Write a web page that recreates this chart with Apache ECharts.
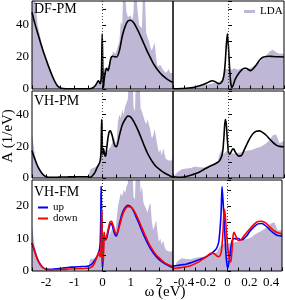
<!DOCTYPE html>
<html>
<head>
<meta charset="utf-8">
<script src="https://cdn.jsdelivr.net/npm/echarts@6/dist/echarts.min.js"></script>
<style>html,body{margin:0;padding:0;background:#fff}#c{width:285px;height:300px}</style>
</head>
<body>
<div id="c"></div>
<script>
// ---- frequency grids (eV) ----
const negW = [-2.5,-2.4,-2.3,-2.2,-2.1,-2.0,-1.9,-1.8,-1.7,-1.6,-1.5,-1.4,-1.3,-1.2,-1.1,-1.0,-0.9,-0.8,-0.7,-0.6];
const rightW = [-0.5,-0.46,-0.42,-0.38,-0.34,-0.3,-0.26,-0.22,-0.18,-0.15,-0.12,-0.1,-0.08,-0.06,-0.05,-0.04,-0.03,-0.02,-0.01,0,0.01,0.02,0.03,0.04,0.05,0.06,0.08,0.1,0.12,0.14,0.16,0.18,0.2,0.22,0.25,0.28,0.31,0.34,0.37,0.4,0.43,0.46,0.5];
const posW = [0.6,0.7,0.8,0.9,1.0,1.1,1.2,1.3,1.4,1.5,1.6,1.7,1.8,1.9,2.0,2.1,2.2,2.3,2.4,2.5];
const posLdaW = [0.55,0.6,0.65,0.7,0.75,0.8,0.85,0.9,0.95,1.0,1.05,1.1,1.15,1.2,1.25,1.3,1.35,1.4,1.45,1.5,1.55,1.6,1.65,1.7,1.75,1.8,1.85,1.9,1.95,2.0,2.05,2.1,2.15,2.2,2.25,2.3,2.35,2.4,2.45,2.5];
const fermiLevel = [0];

// ---- DF-PM ----
const dfNeg = [48,41,35,29,23.5,18.5,13.5,9,5,2,0.7,0.3,0.2,0.2,0.2,0.2,0.2,0.2,0.2,0.2];
const dfMid = [0.2,0.2,0.3,0.5,0.8,1.3,2,3,4.3,5.2,4.6,3.6,3.3,4.5,6,9,16,27,34.5,26,13,4,1,2,4,6,8.5,10.5,12,13,13,12,11.5,12.5,15,18,19.8,20.3,20.5,20.3,20.2,20.2,20];
const dfPos = [24,33,39,42.5,43,41.5,38.5,35,31,27,23,19.5,16,13.3,11,9,7.4,6,4.9,4];
const ldaDfNeg = [70,58,40,32,25,20,15,10,6,3,1,0,0,0,0,0,0,0,0,0];
const ldaDfMid = [0,0,0.3,0.6,1,1.5,2,2.5,3,3.5,4,4.2,4.5,5.5,8,11,12.5,13,12.5,13,12.5,13,12,12.5,13,12.5,12,12.5,13,12.5,12,13,13,14,15.5,16.5,19,21,23.5,24.5,23,22,22];
const ldaDfPos = [27,30,42,40,70,70,48,45,44,46,43,48,70,70,48,40,41,38,70,60,35,32,30,26,24,25,29,20,14,13,15,16,12,11,10,11,12.5,10,11,10];

// ---- VH-PM ----
const vhNeg = [17.3,12,7.5,4.3,2,0.8,0.5,0.5,0.5,0.5,0.6,0.6,0.6,0.7,0.7,0.7,0.8,0.8,0.8,0.8];
const vhMid = [0.8,0.5,0.5,1,1.8,2.7,3.8,5.5,7,8,9,9.8,11,14,18,27,37,34,24,16,15,16,17.5,18.4,18,16.5,14.5,13.8,14.5,17.5,20.5,23.5,26,28,29.6,29.8,28.7,27,24.7,22.5,20.8,20,19.8];
const vhPos = [27,33.5,37,39.2,38.5,36,32.5,28.5,24,19.5,15.5,12.3,9.5,7.3,5.7,4.3,3.2,2.2,1.3,0.6];
const ldaVhNeg = [28,15,7,3,1,0,0,0,0,0,0,0,0,0,0,0,0,0,0,0];
const ldaVhMid = [0.5,3.7,5.5,6,6.4,7.2,6.8,6.7,7.7,8.5,9.3,10,15,18,15,15.5,16,17,17.5,17,16.5,16,15.5,15,15.5,16,16,16,16.5,17,17,17.5,17.5,18,19,19.5,20.5,22,24,27,27.5,22,23.5];
const ldaVhPos = [36,40,38,43,40,45,46,50,70,70,70,45,42,70,70,70,44,42,42,36,34,37,38,30,25,27,31,30,20,16,18,14,19,15,12,13,11,12,11,13];

// ---- VH-FM ----
const upNeg = [8.6,6,3.6,2,1,0.6,0.5,0.5,0.6,0.7,0.8,0.9,1,1.1,1.2,1.2,1.3,1.3,1.4,1.4];
const upMid = [1.5,1.7,1.9,2.1,2.5,3,3.5,4,4.7,5.3,6.2,7,9,17,26,21,15,8.5,3.5,1,2,4.5,7,9,9.8,10,9.9,10,9.6,9.7,10.3,11,12,12.8,13.8,14.5,14.6,14.2,13.3,12.3,11.5,10.9,10.8];
const upPos = [14.5,17.8,19.5,20.2,19.8,18.5,16.5,14.5,12.3,10.3,8.5,6.9,5.6,4.5,3.6,2.9,2.3,1.8,1.4,1.1];
const dnNeg = [8.6,5.8,3.4,1.8,0.9,0.5,0.4,0.4,0.4,0.4,0.5,0.5,0.5,0.6,0.6,0.6,0.7,0.7,0.7,0.8];
const dnMid = [0.8,0.9,1.1,1.3,1.6,2.2,2.9,3.8,4.8,5.5,5.3,4.7,4.4,5.5,8,13,19,17,12,8,5,3.2,2.8,6,10.5,11.9,10.5,9.4,9.5,10.3,11.2,12,12.8,13.6,14.6,15.2,15.3,15,14.2,13.2,12.3,11.8,11.5];
const dnPos = [13.8,17,19,19.8,19.7,18.8,17.2,15.3,13.2,11.2,9.3,7.6,6.2,5,4.1,3.3,2.6,2.1,1.7,1.4];
const ldaFmNeg = [14,7.5,3.8,1.5,0.5,0,0,0,0,0,0,0,0,0,0,0,0,0,0,0];
const ldaFmMid = [0.5,3,3.9,3.7,3.6,4,4.2,4.4,4.6,5,5.4,5.8,7,8,8,8.2,8.5,8.5,8.6,8.6,8.6,8.5,8.4,8.5,8.6,8.8,9,9,9.3,9.6,9.7,9.9,10.1,10.4,11.2,11.8,12.3,12.9,13.8,14.6,15,12.5,12.7];
const ldaFmPos = [20,22,24,23,25,24,26,27,35,35,35,23,22,35,35,35,24,26,21,20,19,18,20,21,15,12.6,14,15.6,12,9,10,8,9.5,7.5,6.5,7,6,6.5,6,7];

// ---- labels ----
const panelNames = ['DF-PM','VH-PM','VH-FM'];
const yMax = [55,55,28];
const yInterval = [10,10,5];
const yLabelStep = [20,20,10];

function zip(w, v) { return w.map((x, i) => [x, v[i]]); }
function leftData(n, m, p, pw) { return zip(negW, n).concat(zip(rightW, m), zip(pw || posW, p)); }

const FONT = "'Liberation Serif', 'Times New Roman', serif";
const LDA_COLOR = '#bfb7d5';
const chart = echarts.init(document.getElementById('c'), null, {renderer: 'canvas'});

const cols = [{left: 32, width: 141}, {left: 173, width: 111}];
const rows = [{top: 1, height: 88}, {top: 91, height: 87}, {top: 180, height: 91}];
const grids = [], xAxes = [], yAxes = [];
for (let r = 0; r < 3; r++) {
  for (let c = 0; c < 2; c++) {
    const g = r * 2 + c;
    grids.push({left: cols[c].left, width: cols[c].width, top: rows[r].top, height: rows[r].height,
      show: true, borderColor: '#000', borderWidth: 1, backgroundColor: 'transparent', z: 5});
    xAxes.push({
      gridIndex: g, type: 'value', z: 6,
      min: c === 0 ? -2.5 : -0.5, max: c === 0 ? 2.5 : 0.5, interval: c === 0 ? 0.5 : 0.1,
      axisLine: {show: false}, splitLine: {show: false},
      axisTick: {show: true, inside: true, length: 3.5, lineStyle: {color: '#000', width: 1}},
      axisLabel: {show: r === 2, margin: 5, color: '#000', fontFamily: FONT, fontSize: 13,
        formatter: c === 0
          ? (v) => (Math.abs(v - Math.round(v)) < 1e-6 ? String(Math.round(v)) : '')
          : (v) => { const k = Math.round(v * 10); return k % 2 === 0 ? String(k / 10) : ''; }}
    });
    yAxes.push({
      gridIndex: g, type: 'value', z: 6,
      min: 0, max: yMax[r], interval: yInterval[r],
      axisLine: {show: false}, splitLine: {show: false},
      axisTick: {show: true, inside: true, length: 3.5, lineStyle: {color: '#000', width: 1}},
      axisLabel: {show: c === 0, margin: 3, color: '#000', fontFamily: FONT, fontSize: 13, showMaxLabel: false,
        formatter: (v) => (Math.abs(v % yLabelStep[r]) < 1e-6 ? String(v) : '')}
    });
  }
}

function lda(g, data) {
  return {name: 'LDA', type: 'line', xAxisIndex: g, yAxisIndex: g, data: data, symbol: 'none',
    itemStyle: {color: LDA_COLOR}, lineStyle: {width: 0, color: LDA_COLOR},
    areaStyle: {color: LDA_COLOR, opacity: 1}, z: 1, clip: true,
    markLine: {silent: true, symbol: ['none', 'none'], label: {show: false}, z: 4,
      lineStyle: {color: '#444', type: [1, 2], width: 1, opacity: 1},
      emphasis: {disabled: true},
      data: fermiLevel.map(v => ({xAxis: v}))}};
}
function curve(g, name, data, color) {
  return {name: name, type: 'line', xAxisIndex: g, yAxisIndex: g, data: data, symbol: 'none',
    smooth: 0.25, itemStyle: {color: color}, lineStyle: {width: 1.6, color: color}, z: 3, clip: true};
}

const series = [
  lda(0, leftData(ldaDfNeg, ldaDfMid, ldaDfPos, posLdaW)),
  curve(0, 'DF', leftData(dfNeg, dfMid, dfPos), '#000'),
  lda(1, zip(rightW, ldaDfMid)),
  curve(1, 'DF', zip(rightW, dfMid), '#000'),
  lda(2, leftData(ldaVhNeg, ldaVhMid, ldaVhPos, posLdaW)),
  curve(2, 'VH', leftData(vhNeg, vhMid, vhPos), '#000'),
  lda(3, zip(rightW, ldaVhMid)),
  curve(3, 'VH', zip(rightW, vhMid), '#000'),
  lda(4, leftData(ldaFmNeg, ldaFmMid, ldaFmPos, posLdaW)),
  curve(4, 'up', leftData(upNeg, upMid, upPos), '#0000ff'),
  curve(4, 'down', leftData(dnNeg, dnMid, dnPos), '#ff0000'),
  lda(5, zip(rightW, ldaFmMid)),
  curve(5, 'up', zip(rightW, upMid), '#0000ff'),
  curve(5, 'down', zip(rightW, dnMid), '#ff0000')
];

const titleTops = [2, 94, 185];
chart.setOption({
  animation: false,
  backgroundColor: '#fff',
  grid: grids, xAxis: xAxes, yAxis: yAxes, series: series,
  title: panelNames.map((t, i) => ({text: t, left: 34, top: titleTops[i], padding: 0,
    textStyle: {fontFamily: FONT, fontSize: 14, fontWeight: 'normal', color: '#000'}})),
  legend: [
    {data: ['LDA'], left: 244, top: 6, padding: 0, icon: 'rect', itemWidth: 11, itemHeight: 3,
      selectedMode: false, textStyle: {fontFamily: FONT, fontSize: 11, color: '#000'}},
    {data: ['up', 'down'], left: 38, top: 202, padding: 0, orient: 'vertical', itemGap: 0,
      icon: 'rect', itemWidth: 10, itemHeight: 2, selectedMode: false,
      textStyle: {fontFamily: FONT, fontSize: 11, color: '#000'}}
  ],
  graphic: [
    {type: 'text', x: 8, y: 136, rotation: Math.PI / 2,
      style: {text: 'A (1/eV)', font: "15px 'Liberation Serif'", fill: '#000', textAlign: 'center', textVerticalAlign: 'middle'}},
    {type: 'text', x: 165, y: 292,
      style: {text: 'ω (eV)', font: "15px 'Liberation Serif'", fill: '#000', textAlign: 'center', textVerticalAlign: 'middle'}}
  ]
});
</script>
</body>
</html>
